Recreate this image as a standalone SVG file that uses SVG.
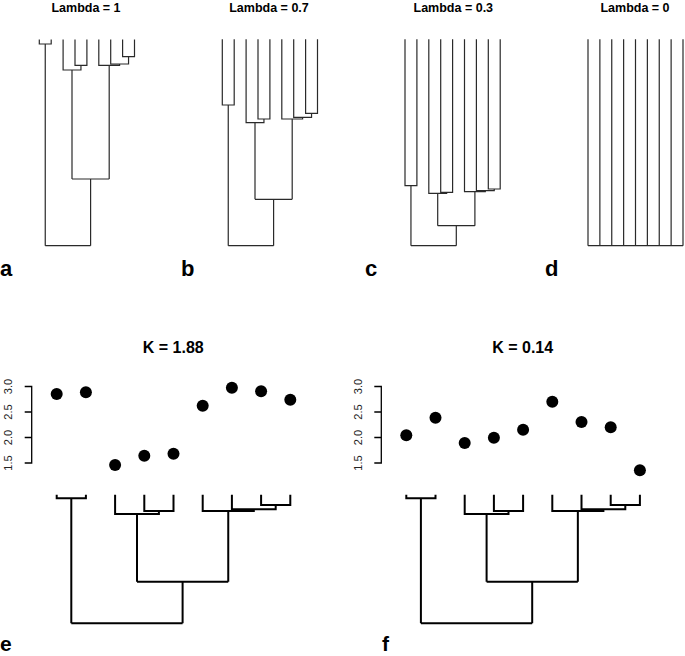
<svg xmlns="http://www.w3.org/2000/svg" width="685" height="656" viewBox="0 0 685 656">
<style>
text{font-family:"Liberation Sans",Arial,Helvetica,sans-serif;fill:#000}
.title{font-size:12.5px;font-weight:bold;text-anchor:middle}
.ktitle{font-size:16px;font-weight:bold;text-anchor:middle}
.lab{font-size:22px;font-weight:bold}
.labb{font-size:21px;font-weight:bold}
.tick{font-size:11px;text-anchor:middle;fill:#222}
.thin{fill:none;stroke:#2a2a2a;stroke-width:1.2}
.thick{fill:none;stroke:#000;stroke-width:2}
.ax{fill:none;stroke:#000;stroke-width:1.3}
.pt{fill:#000}
</style>
<rect width="685" height="656" fill="#fff"/>

<!-- Panel a -->
<g id="panel-a">
<text class="title" x="86" y="11.5">Lambda = 1</text>
<path class="thin" d="M39.3,39.5V44H51.2V39.5 M45.25,44V245.7
M75,39.5V65.3H86.9V39.5 M63.1,39.5V70H80.95V65.3 M72,70V179
M122.6,39.5V56.7H134.5V39.5 M110.7,39.5V64H128.55V56.7 M98.8,39.5V65.3H119.6V64 M109.2,65.3V179
M72,179H109.2 M90.6,179V245.7 M45.25,245.7H90.6"/>
<text class="lab" x="0" y="276">a</text>
</g>

<!-- Panel b -->
<g id="panel-b">
<text class="title" x="269" y="11.5">Lambda = 0.7</text>
<path class="thin" d="M222.3,39.3V105H234.2V39.3 M228.25,105V245.7
M258,39.3V119H269.9V39.3 M246.1,39.3V122.7H263.95V119 M255,122.7V199.3
M305.6,39.3V113.3H317.5V39.3 M293.7,39.3V117.3H311.55V113.3 M281.8,39.3V119H302.6V117.3 M292.2,119V199.3
M255,199.3H292.2 M273.6,199.3V245.7 M228.25,245.7H273.6"/>
<text class="lab" x="181" y="276">b</text>
</g>

<!-- Panel c -->
<g id="panel-c">
<text class="title" x="453.3" y="11.5">Lambda = 0.3</text>
<path class="thin" d="M405,39.3V185.7H416.9V39.3 M410.95,185.7V245.7
M440.7,39.3V192.3H452.6V39.3 M428.8,39.3V193.3H446.65V192.3 M437.7,193.3V225.7
M488.3,39.3V189H500.2V39.3 M476.4,39.3V190.7H494.25V189 M464.5,39.3V191.7H485.3V190.7 M474.9,191.7V225.7
M437.7,225.7H474.9 M456.3,225.7V245.7 M410.95,245.7H456.3"/>
<text class="lab" x="365" y="276">c</text>
</g>

<!-- Panel d -->
<g id="panel-d">
<text class="title" x="635" y="11.5">Lambda = 0</text>
<path class="thin" d="M588,39.3V245.7 M599.875,39.3V245.7 M611.75,39.3V245.7 M623.625,39.3V245.7 M635.5,39.3V245.7 M647.375,39.3V245.7 M659.25,39.3V245.7 M671.125,39.3V245.7 M683,39.3V245.7 M588,245.7H683"/>
<text class="lab" x="545" y="276">d</text>
</g>

<!-- Panel e -->
<g id="panel-e">
<text class="ktitle" x="173.3" y="352.7">K = 1.88</text>
<path class="ax" d="M24.7,386.5H31.7V463H24.7 M24.7,412H31.7 M24.7,437.5H31.7"/>
<text class="tick" transform="translate(12,386.5) rotate(-90)">3.0</text>
<text class="tick" transform="translate(12,412) rotate(-90)">2.5</text>
<text class="tick" transform="translate(12,437.5) rotate(-90)">2.0</text>
<text class="tick" transform="translate(12,463) rotate(-90)">1.5</text>
<circle class="pt" cx="56.7" cy="394" r="6"/>
<circle class="pt" cx="85.9" cy="392.3" r="6"/>
<circle class="pt" cx="115.1" cy="465" r="6"/>
<circle class="pt" cx="144.3" cy="455.7" r="6"/>
<circle class="pt" cx="173.5" cy="453.7" r="6"/>
<circle class="pt" cx="202.7" cy="405.7" r="6"/>
<circle class="pt" cx="231.9" cy="387.7" r="6"/>
<circle class="pt" cx="261.1" cy="391.3" r="6"/>
<circle class="pt" cx="290.3" cy="399.7" r="6"/>
<path id="tree-e" class="thick" d="M56.7,494.7V498.3H85.9V494.7 M71.3,498.3V623.3
M144.3,494.7V511H173.5V494.7 M115.1,494.7V514H158.9V511 M137,514V581.7
M261.1,494.7V505H290.3V494.7 M231.9,494.7V509.3H275.7V505 M202.7,494.7V511H253.8V509.3 M228.25,511V581.7
M137,581.7H228.25 M182.6,581.7V623.3 M71.3,623.3H182.6"/>
<text class="labb" x="0" y="651">e</text>
</g>

<!-- Panel f -->
<g id="panel-f">
<text class="ktitle" x="522.7" y="352.7">K = 0.14</text>
<path class="ax" d="M374.3,386.5H381.3V463H374.3 M374.3,412H381.3 M374.3,437.5H381.3"/>
<text class="tick" transform="translate(361.6,386.5) rotate(-90)">3.0</text>
<text class="tick" transform="translate(361.6,412) rotate(-90)">2.5</text>
<text class="tick" transform="translate(361.6,437.5) rotate(-90)">2.0</text>
<text class="tick" transform="translate(361.6,463) rotate(-90)">1.5</text>
<circle class="pt" cx="406.3" cy="435.3" r="6"/>
<circle class="pt" cx="435.5" cy="417.7" r="6"/>
<circle class="pt" cx="464.7" cy="443" r="6"/>
<circle class="pt" cx="493.9" cy="437.7" r="6"/>
<circle class="pt" cx="523.1" cy="429.7" r="6"/>
<circle class="pt" cx="552.3" cy="401.7" r="6"/>
<circle class="pt" cx="581.5" cy="422" r="6"/>
<circle class="pt" cx="610.7" cy="427.3" r="6"/>
<circle class="pt" cx="639.9" cy="470.3" r="6"/>
<path id="tree-f" class="thick" transform="translate(349.6,0)" d="M56.7,494.7V498.3H85.9V494.7 M71.3,498.3V623.3
M144.3,494.7V511H173.5V494.7 M115.1,494.7V514H158.9V511 M137,514V581.7
M261.1,494.7V505H290.3V494.7 M231.9,494.7V509.3H275.7V505 M202.7,494.7V511H253.8V509.3 M228.25,511V581.7
M137,581.7H228.25 M182.6,581.7V623.3 M71.3,623.3H182.6"/>
<text class="labb" x="382" y="651">f</text>
</g>
</svg>
